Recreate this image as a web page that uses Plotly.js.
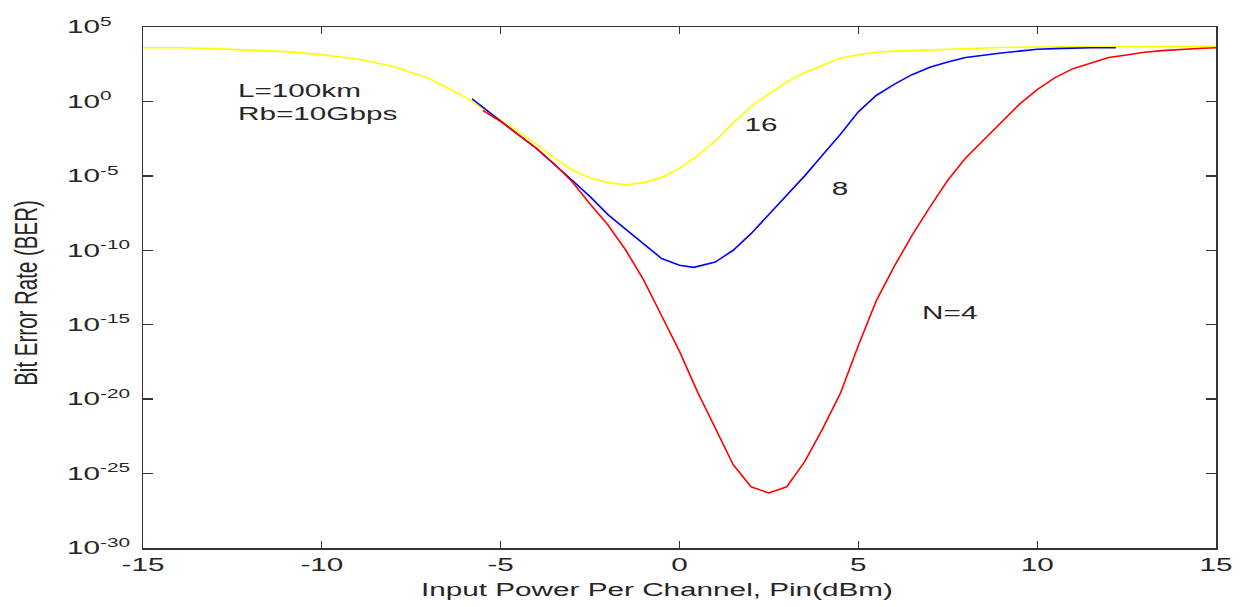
<!DOCTYPE html>
<html>
<head>
<meta charset="utf-8">
<script src="https://cdn.plot.ly/plotly-3.0.1.min.js"></script>
<style>
html,body{margin:0;padding:0;background:#fff;}
#chart{width:1241px;height:607px;}
</style>
</head>
<body>
<div id="chart"></div>
<script>
// Input power per channel (dBm) and BER values
const xN16 = [-15,-14,-13,-12,-11,-10,-9,-8,-7,-6,-5.5,-5,-4.5,-4,-3.5,-3,-2.5,-2,-1.5,-1,-0.5,0,0.5,1,1.5,2,2.5,3,3.5,4,4.5,5,5.5,6,7,8,9,10,12,15];
const berN16 = [4.0e3,4.0e3,3.5e3,2.8e3,2.2e3,1.4e3,7.1e2,2.2e2,3.5e1,2.0,3.5e-1,5.6e-2,8.9e-3,1.3e-3,1.6e-4,2.5e-5,7.1e-6,3.5e-6,2.5e-6,3.5e-6,7.9e-6,3.2e-5,2.2e-4,2.2e-3,3.5e-2,4.5e-1,3.2,2.0e1,8.9e1,2.8e2,7.9e2,1.4e3,2.0e3,2.4e3,3.0e3,3.6e3,4.2e3,4.5e3,4.8e3,5.0e3];

const xN8 = [-5.8,-5.5,-5,-4.5,-4,-3.5,-3,-2.5,-2,-1.5,-1,-0.5,0,0.4,1,1.5,2,2.5,3,3.5,4,4.5,5,5.5,6,6.5,7,7.5,8,8.5,9,9.5,10,10.5,11,11.5,12.2];
const berN8 = [1.5,4.0e-1,4.5e-2,5.6e-3,7.1e-4,6.3e-5,5.0e-6,4.0e-7,2.5e-8,2.5e-9,2.5e-10,2.8e-11,1.0e-11,7.1e-12,1.6e-11,1.0e-10,1.3e-9,2.5e-8,5.0e-7,1.0e-5,2.5e-4,6.3e-3,2.0e-1,2.5,1.4e1,6.3e1,2.0e2,4.5e2,8.9e2,1.3e3,1.8e3,2.4e3,3.2e3,3.5e3,3.8e3,4.0e3,4.0e3];

const xN4 = [-5.5,-5,-4.5,-4,-3.5,-3,-2.5,-2,-1.5,-1,-0.5,0,0.5,1,1.5,2,2.5,3,3.5,4,4.5,5,5.5,6,6.5,7,7.5,8,8.5,9,9.5,10,10.5,11,11.5,12,12.5,13,13.5,14,14.5,15];
const berN4 = [2.5e-1,4.5e-2,5.6e-3,7.1e-4,6.3e-5,4.0e-6,1.3e-7,5.0e-9,1.0e-10,1.0e-12,4.0e-15,1.6e-17,3.2e-20,1.0e-22,4.0e-25,1.3e-26,5.0e-27,1.3e-26,6.3e-25,1.0e-22,2.5e-20,4.0e-17,4.0e-14,7.9e-12,1.0e-9,7.9e-8,5.0e-6,1.6e-4,2.5e-3,4.0e-2,6.3e-1,6.3,4.0e1,1.6e2,4.0e2,8.9e2,1.3e3,2.0e3,2.6e3,3.2e3,3.6e3,4.0e3];

const xTickVals = [-15,-10,-5,0,5,10,15];
const xTickText = ['-15','-10','-5','0','5','10','15'];
const yTickVals = [1e5,1e0,1e-5,1e-10,1e-15,1e-20,1e-25,1e-30];
const yTickText = ['10<sup>5</sup>','10<sup>0</sup>','10<sup>-5</sup>','10<sup>-10</sup>','10<sup>-15</sup>','10<sup>-20</sup>','10<sup>-25</sup>','10<sup>-30</sup>'];

const FONT = 'Liberation Sans, Arial, sans-serif';
const TXT = '#262626';

const traces = [
  {x: xN16, y: berN16, mode: 'lines', line: {color: '#ffff00', width: 1.6}, name: 'N=16'},
  {x: xN8, y: berN8, mode: 'lines', line: {color: '#0000ff', width: 1.6}, name: 'N=8'},
  {x: xN4, y: berN4, mode: 'lines', line: {color: '#ff0000', width: 1.6}, name: 'N=4'}
];

const layout = {
  width: 1241, height: 607,
  margin: {l: 143, r: 25, t: 27, b: 59},
  paper_bgcolor: '#ffffff', plot_bgcolor: '#ffffff',
  showlegend: false,
  font: {family: FONT, size: 18, color: TXT},
  xaxis: {
    range: [-15, 15], tickvals: xTickVals, ticktext: xTickText,
    showgrid: false, zeroline: false, showline: true, linecolor: '#333', linewidth: 1.5,
    mirror: 'ticks', ticks: 'inside', ticklen: 7, tickcolor: '#333', tickwidth: 1.3,
    tickfont: {family: FONT, size: 18, color: TXT},
    title: {text: 'Input Power Per Channel, Pin(dBm)', font: {family: FONT, size: 18, color: TXT}, standoff: 2}
  },
  yaxis: {
    type: 'log', range: [-30, 5], tickvals: yTickVals, ticktext: yTickText,
    showgrid: false, zeroline: false, showline: true, linecolor: '#333', linewidth: 1.5,
    mirror: 'ticks', ticks: 'inside', ticklen: 10, tickcolor: '#333', tickwidth: 1.3,
    tickfont: {family: FONT, size: 18, color: TXT},
    title: {text: 'Bit Error Rate (BER)', font: {family: FONT, size: 20.5, color: TXT}, standoff: 22}
  },
  annotations: [
    {xref: 'x', yref: 'y', x: -12.4, y: -0.1, xanchor: 'left', yanchor: 'middle', align: 'left',
     text: 'L=100km<br>Rb=10Gbps', showarrow: false, font: {family: FONT, size: 18, color: TXT}},
    {xref: 'x', yref: 'y', x: 2.28, y: -1.56, xanchor: 'center', yanchor: 'middle',
     text: '16', showarrow: false, font: {family: FONT, size: 18, color: TXT}},
    {xref: 'x', yref: 'y', x: 4.49, y: -5.86, xanchor: 'center', yanchor: 'middle',
     text: '8', showarrow: false, font: {family: FONT, size: 18, color: TXT}},
    {xref: 'x', yref: 'y', x: 7.56, y: -14.2, xanchor: 'center', yanchor: 'middle',
     text: 'N=4', showarrow: false, font: {family: FONT, size: 18, color: TXT}}
  ]
};

// The reference image is horizontally stretched: widen the text glyphs to match.
const SX = 1.65;
const YTITLE_SX = 1.5;
const YTICK_LEFT = 67;
const XTITLE_CENTER = [657, 590];
const YTITLE_CENTER = [26, 293];

function moveCenterTo(t, gd, target) {
  const r = t.getBoundingClientRect();
  const g = gd.getBoundingClientRect();
  const cx = r.left - g.left + r.width / 2;
  const cy = r.top - g.top + r.height / 2;
  t.setAttribute('transform', 'translate(' + (target[0] - cx) + ',' + (target[1] - cy) + ') ' + t.getAttribute('transform'));
}

Plotly.newPlot('chart', traces, layout, {displayModeBar: false, staticPlot: true}).then(function (gd) {
  gd.querySelectorAll('text').forEach(function (t) {
    const bb = t.getBBox();
    const tr = t.getAttribute('transform') || '';
    if (t.classList.contains('ytitle')) {
      const cy = bb.y + bb.height / 2;
      t.setAttribute('transform', tr + ' translate(0,' + cy + ') scale(1,' + YTITLE_SX + ') translate(0,' + (-cy) + ')');
      moveCenterTo(t, gd, YTITLE_CENTER);
      return;
    }
    const anchor = t.getAttribute('text-anchor') || 'start';
    const ax = anchor === 'middle' ? bb.x + bb.width / 2 : (anchor === 'end' ? bb.x + bb.width : bb.x);
    t.setAttribute('transform', tr + ' translate(' + ax + ',0) scale(' + SX + ',1) translate(' + (-ax) + ',0)');
    if (t.classList.contains('xtitle')) {
      moveCenterTo(t, gd, XTITLE_CENTER);
      return;
    }
    if (t.parentNode && t.parentNode.classList && t.parentNode.classList.contains('ytick')) {
      const left = t.getBoundingClientRect().left - gd.getBoundingClientRect().left;
      t.setAttribute('transform', 'translate(' + (YTICK_LEFT - left) + ',0) ' + t.getAttribute('transform'));
    }
  });
});
</script>
</body>
</html>
